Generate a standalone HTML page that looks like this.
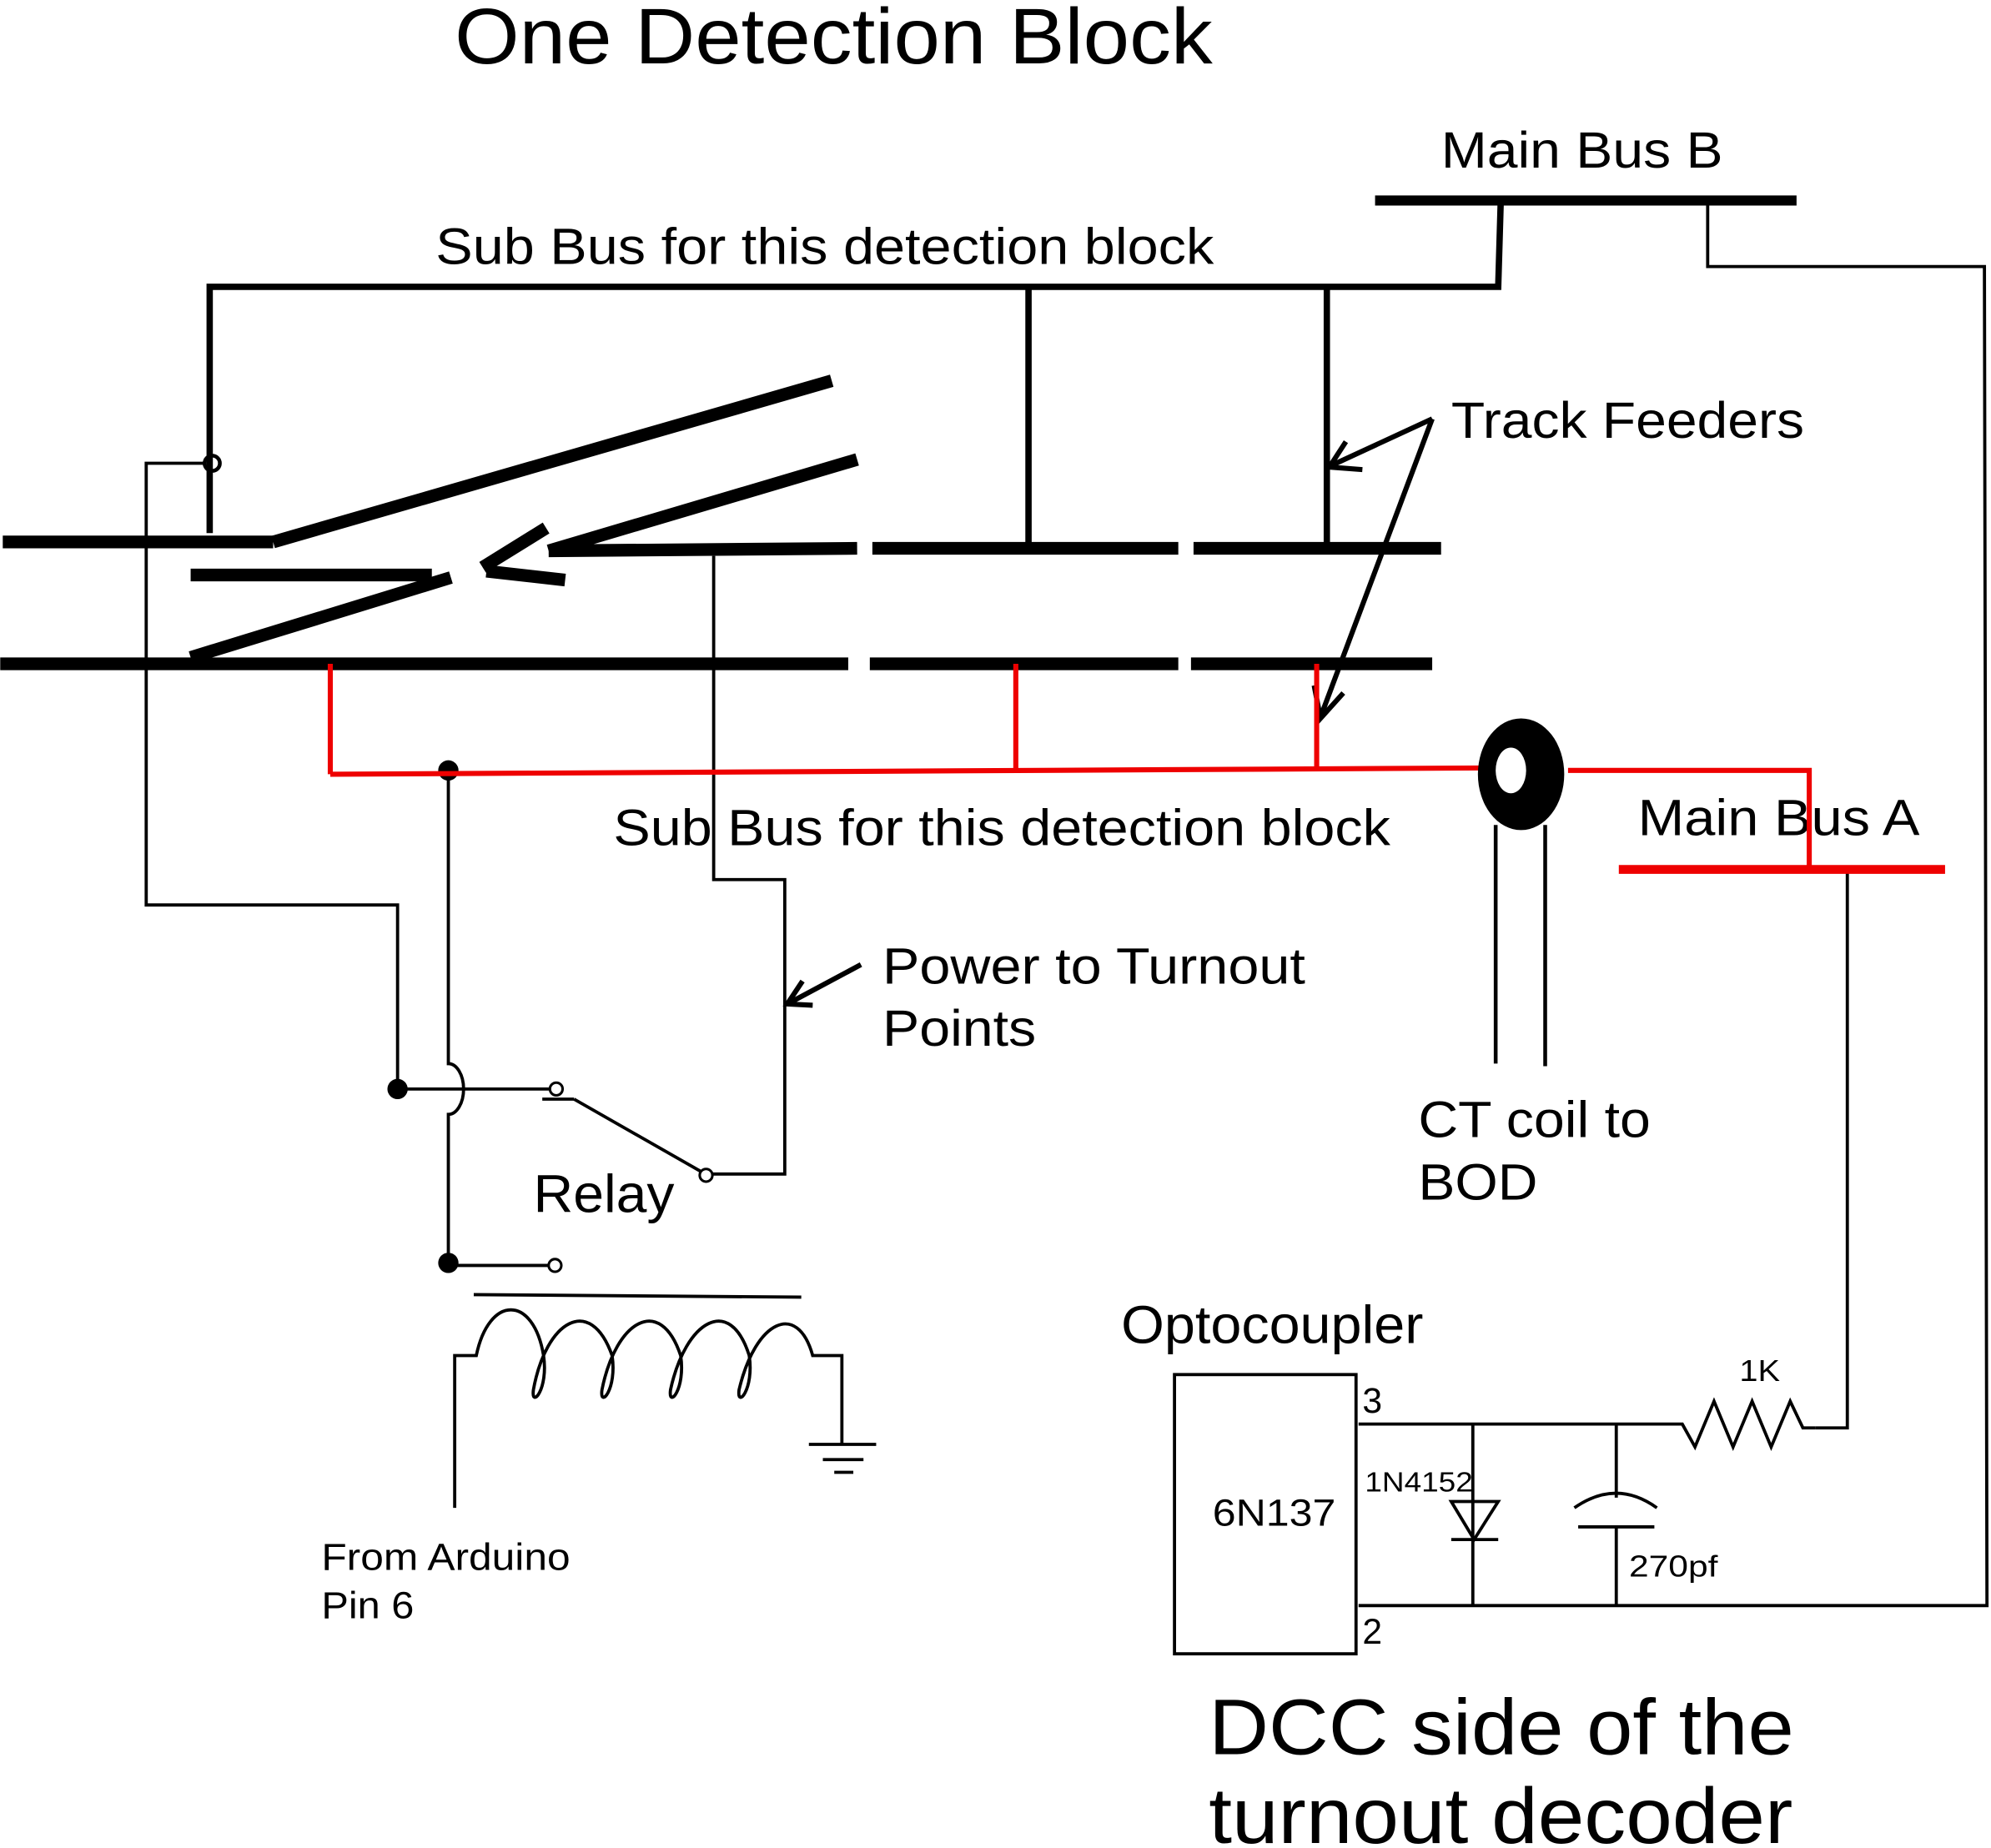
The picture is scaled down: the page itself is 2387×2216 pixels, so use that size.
<!DOCTYPE html>
<html><head><meta charset="utf-8"><style>
html,body{margin:0;padding:0;background:#fff;}
svg{display:block;}
text{font-family:"Liberation Sans",sans-serif;fill:#000;}
</style></head><body>
<svg width="2387" height="2216" viewBox="0 0 1568 1456" xmlns="http://www.w3.org/2000/svg">
<g lengthAdjust="spacingAndGlyphs">
<text x="358" y="50" font-size="62" textLength="597" lengthAdjust="spacingAndGlyphs">One Detection Block</text>
<text x="1135" y="132" font-size="40" textLength="222" lengthAdjust="spacingAndGlyphs">Main Bus B</text>
<text x="343" y="208" font-size="40" textLength="613" lengthAdjust="spacingAndGlyphs">Sub Bus for this detection block</text>
<text x="483" y="666" font-size="40" textLength="612" lengthAdjust="spacingAndGlyphs">Sub Bus for this detection block</text>
<text x="1290" y="658" font-size="40" textLength="222" lengthAdjust="spacingAndGlyphs">Main Bus A</text>
<text x="1143" y="345" font-size="40" textLength="278" lengthAdjust="spacingAndGlyphs">Track Feeders</text>
<text x="695" y="775" font-size="40" textLength="333" lengthAdjust="spacingAndGlyphs">Power to Turnout</text>
<text x="695" y="824" font-size="40" textLength="121" lengthAdjust="spacingAndGlyphs">Points</text>
<text x="420" y="955" font-size="42" textLength="111" lengthAdjust="spacingAndGlyphs">Relay</text>
<text x="253" y="1237" font-size="30" textLength="196" lengthAdjust="spacingAndGlyphs">From Arduino</text>
<text x="253" y="1275" font-size="30" textLength="73" lengthAdjust="spacingAndGlyphs">Pin 6</text>
<text x="1117" y="896" font-size="40" textLength="183" lengthAdjust="spacingAndGlyphs">CT coil to</text>
<text x="1117" y="945" font-size="40" textLength="94" lengthAdjust="spacingAndGlyphs">BOD</text>
<text x="883" y="1058" font-size="42" textLength="238" lengthAdjust="spacingAndGlyphs">Optocoupler</text>
<text x="955" y="1202" font-size="30" textLength="97" lengthAdjust="spacingAndGlyphs">6N137</text>
<text x="1073" y="1113" font-size="28">3</text>
<text x="1073" y="1295" font-size="28">2</text>
<text x="1370" y="1088" font-size="24" textLength="32" lengthAdjust="spacingAndGlyphs">1K</text>
<text x="1075" y="1175" font-size="22" textLength="85" lengthAdjust="spacingAndGlyphs">1N4152</text>
<text x="1283" y="1242" font-size="24" textLength="70" lengthAdjust="spacingAndGlyphs">270pf</text>
<text x="952" y="1382" font-size="62" textLength="461" lengthAdjust="spacingAndGlyphs">DCC side of the</text>
<text x="952" y="1452" font-size="62" textLength="460" lengthAdjust="spacingAndGlyphs">turnout decoder</text>
</g>

<g stroke="#000" fill="none" stroke-linecap="butt">
<line x1="1083" y1="158" x2="1415" y2="158" stroke-width="8"/>
<polyline points="1182,158 1180,226 165,226 165,420" stroke-width="5"/>
<line x1="810" y1="226" x2="810" y2="432" stroke-width="5"/>
<line x1="1045" y1="226" x2="1045" y2="432" stroke-width="5"/>
<polyline points="1345,158 1345,210 1563,210 1565,1265 1070,1265" stroke-width="2.5"/>
<circle cx="167" cy="365" r="6" stroke-width="3"/>
<polyline points="161,365 115,365 115,713 313,713 313,858" stroke-width="2.5"/>
<g stroke-width="10">
<line x1="2" y1="427" x2="215" y2="427"/>
<line x1="215" y1="427" x2="655" y2="300"/>
<line x1="432" y1="434" x2="675" y2="362"/>
<line x1="432" y1="434" x2="675" y2="432"/>
<line x1="687" y1="432" x2="928" y2="432"/>
<line x1="940" y1="432" x2="1135" y2="432"/>
<line x1="150" y1="453" x2="340" y2="453"/>
<line x1="150" y1="518" x2="355" y2="455"/>
<line x1="380" y1="447" x2="430" y2="416"/>
<line x1="383" y1="450" x2="445" y2="457"/>
<line x1="0" y1="523" x2="668" y2="523"/>
<line x1="685" y1="523" x2="928" y2="523"/>
<line x1="938" y1="523" x2="1128" y2="523"/>
</g>
<polyline points="562,438 562,693 618,693 618,925 561,925" stroke-width="2.5"/>
<line x1="678" y1="760" x2="622" y2="790" stroke-width="4"/>
<polyline points="632,773 620,791 640,792" stroke-width="4"/>
<line x1="1128" y1="330" x2="1048" y2="367" stroke-width="4"/>
<polyline points="1060,348 1047,368 1073,370" stroke-width="4"/>
<line x1="1128" y1="330" x2="1040" y2="565" stroke-width="4"/>
<polyline points="1035,540 1040,566 1058,546" stroke-width="4"/>
<polyline points="1455,685 1455,1125 1430,1125" stroke-width="2.5"/>
<line x1="1178" y1="650" x2="1178" y2="838" stroke-width="3"/>
<line x1="1217" y1="650" x2="1217" y2="840" stroke-width="3"/>
<path d="M353,607 L353,838 A12,20 0 0 1 353,878 L353,995" stroke-width="2.5"/>
<line x1="313" y1="858" x2="433" y2="858" stroke-width="2.5"/>
<circle cx="438" cy="858" r="5" stroke-width="2"/>
<line x1="427" y1="866" x2="452" y2="866" stroke-width="2.5"/>
<line x1="452" y1="866" x2="552" y2="923" stroke-width="2.5"/>
<circle cx="556" cy="926" r="5" stroke-width="2"/>
<line x1="353" y1="997" x2="432" y2="997" stroke-width="2.5"/>
<circle cx="437" cy="997" r="5" stroke-width="2"/>
<line x1="373" y1="1020" x2="631" y2="1022" stroke-width="2.5"/>
<path d="M358,1188 L358,1068 L375,1068 C385,1020 420,1020 428,1068 C432,1095 418,1110 420,1095 C430,1040 465,1020 482,1068 C486,1095 472,1110 474,1095 C485,1040 520,1020 536,1068 C540,1095 526,1110 528,1095 C540,1040 575,1020 590,1068 C594,1095 580,1110 582,1095 C595,1040 628,1025 640,1068 L663,1068 L663,1138" stroke-width="2.5"/>
<line x1="637" y1="1138" x2="690" y2="1138" stroke-width="2.5"/>
<line x1="648" y1="1150" x2="680" y2="1150" stroke-width="2.5"/>
<line x1="657" y1="1160" x2="672" y2="1160" stroke-width="2.5"/>
<rect x="925" y="1083" width="143" height="220" stroke-width="2.5"/>
<polyline points="1070,1122 1325,1122 1335,1140 1350,1104 1365,1140 1380,1104 1395,1140 1410,1104 1420,1125 1430,1125" stroke-width="2.5"/>
<line x1="1160" y1="1122" x2="1160" y2="1265" stroke-width="2.5"/>
<polygon points="1143,1183 1180,1183 1161,1213" stroke-width="2.5"/>
<line x1="1143" y1="1213" x2="1180" y2="1213" stroke-width="2.5"/>
<line x1="1273" y1="1122" x2="1273" y2="1180" stroke-width="2.5"/>
<path d="M1240,1188 Q1273,1165 1305,1188" stroke-width="2.5"/>
<line x1="1243" y1="1203" x2="1303" y2="1203" stroke-width="2.5"/>
<line x1="1273" y1="1203" x2="1273" y2="1265" stroke-width="2.5"/>
</g>
<g fill="#000">
<circle cx="313" cy="858" r="8"/>
<circle cx="353" cy="607" r="8"/>
<circle cx="353" cy="995" r="8"/>
</g>
<g stroke="#e00" fill="none" stroke-width="4">
<line x1="260" y1="523" x2="260" y2="610"/>
<line x1="260" y1="610" x2="1180" y2="605"/>
<line x1="800" y1="523" x2="800" y2="608"/>
<line x1="1037" y1="523" x2="1037" y2="606"/>
<polyline points="1235,607 1425,607 1425,685"/>
<line x1="1275" y1="685" x2="1532" y2="685" stroke-width="7"/>
</g>
<ellipse cx="1198" cy="610" rx="34" ry="44" fill="#000"/>
<ellipse cx="1190" cy="607" rx="12" ry="18" fill="#fff"/>
</svg>
</body></html>
